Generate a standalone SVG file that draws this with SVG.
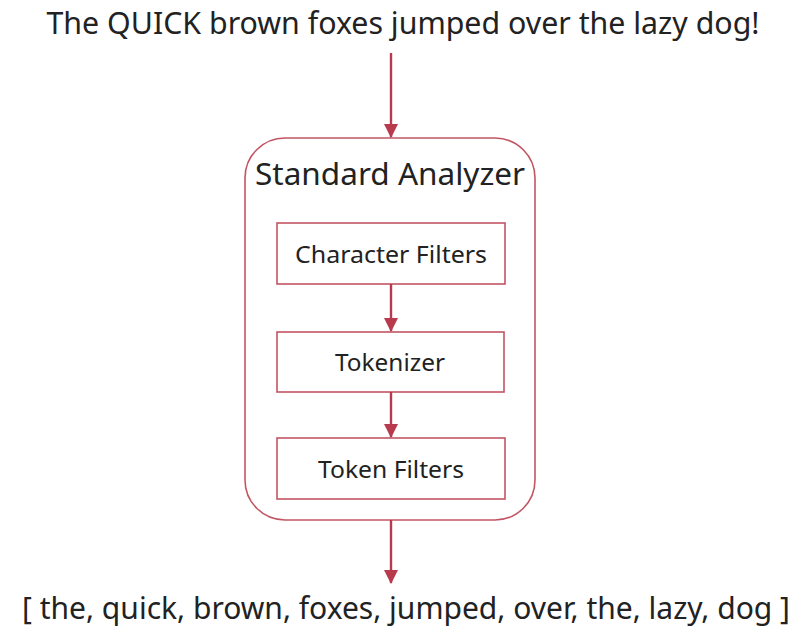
<svg xmlns="http://www.w3.org/2000/svg" width="808" height="641" viewBox="0 0 808 641">
<defs>
<marker id="ah" markerWidth="6" markerHeight="6" refX="5.6" refY="3" orient="auto" markerUnits="strokeWidth">
<path d="M0,0 L6,3 L0,6 Z" fill="#b73a4d"/>
</marker>
<style>
.t{font-family:"Noto Sans","Open Sans","Liberation Sans",sans-serif;fill:#222;text-anchor:middle}
.box{fill:#fff;stroke:#c25563;stroke-width:1.6}
.arr{stroke:#b73a4d;stroke-width:2.4;fill:none;marker-end:url(#ah)}
</style>
</defs>
<rect width="808" height="641" fill="#fff"/>
<g id="input"><text class="t" x="403" y="34" font-size="30" textLength="713" lengthAdjust="spacingAndGlyphs">The QUICK brown foxes jumped over the lazy dog!</text></g>
<g id="analyzer">
<rect class="box" x="245" y="138" width="290" height="382" rx="40" ry="40"/>
<text class="t" x="390" y="185" font-size="30" textLength="270" lengthAdjust="spacingAndGlyphs">Standard Analyzer</text>
</g>
<g id="charfilters">
<rect class="box" x="277" y="223" width="228" height="61"/>
<text class="t" x="391" y="263" font-size="23" textLength="192" lengthAdjust="spacingAndGlyphs">Character Filters</text>
</g>
<g id="tokenizer">
<rect class="box" x="277" y="332" width="227" height="60"/>
<text class="t" x="390" y="371" font-size="23" textLength="110" lengthAdjust="spacingAndGlyphs">Tokenizer</text>
</g>
<g id="tokenfilters">
<rect class="box" x="277" y="438" width="228" height="61"/>
<text class="t" x="391" y="478" font-size="23" textLength="146" lengthAdjust="spacingAndGlyphs">Token Filters</text>
</g>
<g id="output"><text class="t" x="406" y="619" font-size="30" textLength="768" lengthAdjust="spacingAndGlyphs">[ the, quick, brown, foxes, jumped, over, the, lazy, dog ]</text></g>
<g id="connectors">
<line class="arr" x1="391" y1="53" x2="391" y2="137"/>
<line class="arr" x1="391" y1="284" x2="391" y2="331"/>
<line class="arr" x1="391" y1="392" x2="391" y2="437"/>
<line class="arr" x1="391" y1="520" x2="391" y2="583"/>
</g>
</svg>
